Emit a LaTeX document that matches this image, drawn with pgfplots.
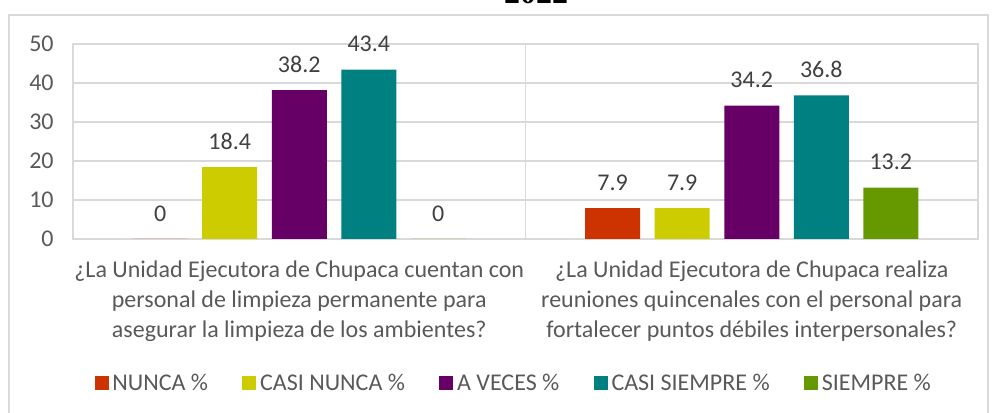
\documentclass[border=0pt]{standalone}
\usepackage{pgfplots}
\pgfplotsset{compat=1.18}
\usepackage{fontspec}
\setmainfont{Carlito}
\newfontfamily\titlefont{Liberation Serif}
\definecolor{cNunca}{HTML}{CC3300}
\definecolor{cCasiNunca}{HTML}{CCCC00}
\definecolor{cAVeces}{HTML}{660066}
\definecolor{cCasiSiempre}{HTML}{008080}
\definecolor{cSiempre}{HTML}{669900}
\definecolor{txt}{HTML}{595959}
\definecolor{dtxt}{HTML}{404040}
\definecolor{grd}{HTML}{D9D9D9}
\begin{document}
\begin{tikzpicture}
\useasboundingbox (-54.75pt,-130.5pt) rectangle (690pt,179.25pt);
\draw[grd, line width=0.8pt] (-48pt,-140pt) rectangle (686.25pt,168pt);
\node[anchor=base, inner sep=0, font=\titlefont\bfseries\fontsize{24}{28}\selectfont] at (347.25pt,176.5pt) {2022};
\begin{axis}[
  at={(0,0)}, anchor=south west,
  width=678.75pt, height=146.25pt, scale only axis,
  ymin=0, ymax=50, ytick={0,10,20,30,40,50},
  xmin=-0.5, xmax=1.5, xtick={0,1},
  xticklabels={{¿La Unidad Ejecutora de Chupaca cuentan con\\personal de limpieza permanente para\\asegurar la limpieza de los ambientes?},{¿La Unidad Ejecutora de Chupaca realiza\\reuniones quincenales con el personal para\\fortalecer puntos débiles interpersonales?}},
  ybar=10.9pt, bar width=41.25pt,
  axis line style={grd, line width=1pt},
  ymajorgrids, grid style={grd, line width=1pt},
  extra x ticks={0.5}, extra x tick labels={},
  extra x tick style={grid=major},
  major tick length=0pt,
  tick label style={font=\fontsize{18}{22.5}\selectfont, text=txt},
  xticklabel style={align=center, yshift=-13pt},
  yticklabel style={xshift=-11pt},
  nodes near coords,
  nodes near coords style={font=\fontsize{18}{20}\selectfont, text=dtxt, anchor=south, inner sep=0pt, yshift=13pt},
  legend style={at={(0.488,-0.738)}, anchor=center, draw=none, fill=none, legend columns=5,
    font=\fontsize{18}{20}\selectfont, text=txt,
    nodes={inner sep=2.8pt},
    /tikz/every even column/.append style={column sep=23pt}},
  legend image code/.code={\fill[#1,draw=none] (0pt,-5.25pt) rectangle (10.5pt,5.25pt);},
  /pgf/number format/fixed, /pgf/number format/precision=1,
  /pgf/number format/assume math mode=true,
]
\addplot[fill=cNunca, draw=none] coordinates {(0,0) (1,7.9)};
\addlegendentry{NUNCA \%}
\addplot[fill=cCasiNunca, draw=none] coordinates {(0,18.4) (1,7.9)};
\addlegendentry{CASI NUNCA \%}
\addplot[fill=cAVeces, draw=none] coordinates {(0,38.2) (1,34.2)};
\addlegendentry{A VECES \%}
\addplot[fill=cCasiSiempre, draw=none] coordinates {(0,43.4) (1,36.8)};
\addlegendentry{CASI SIEMPRE \%}
\addplot[fill=cSiempre, draw=none] coordinates {(0,0) (1,13.2)};
\addlegendentry{SIEMPRE \%}
\end{axis}
\end{tikzpicture}
\end{document}
